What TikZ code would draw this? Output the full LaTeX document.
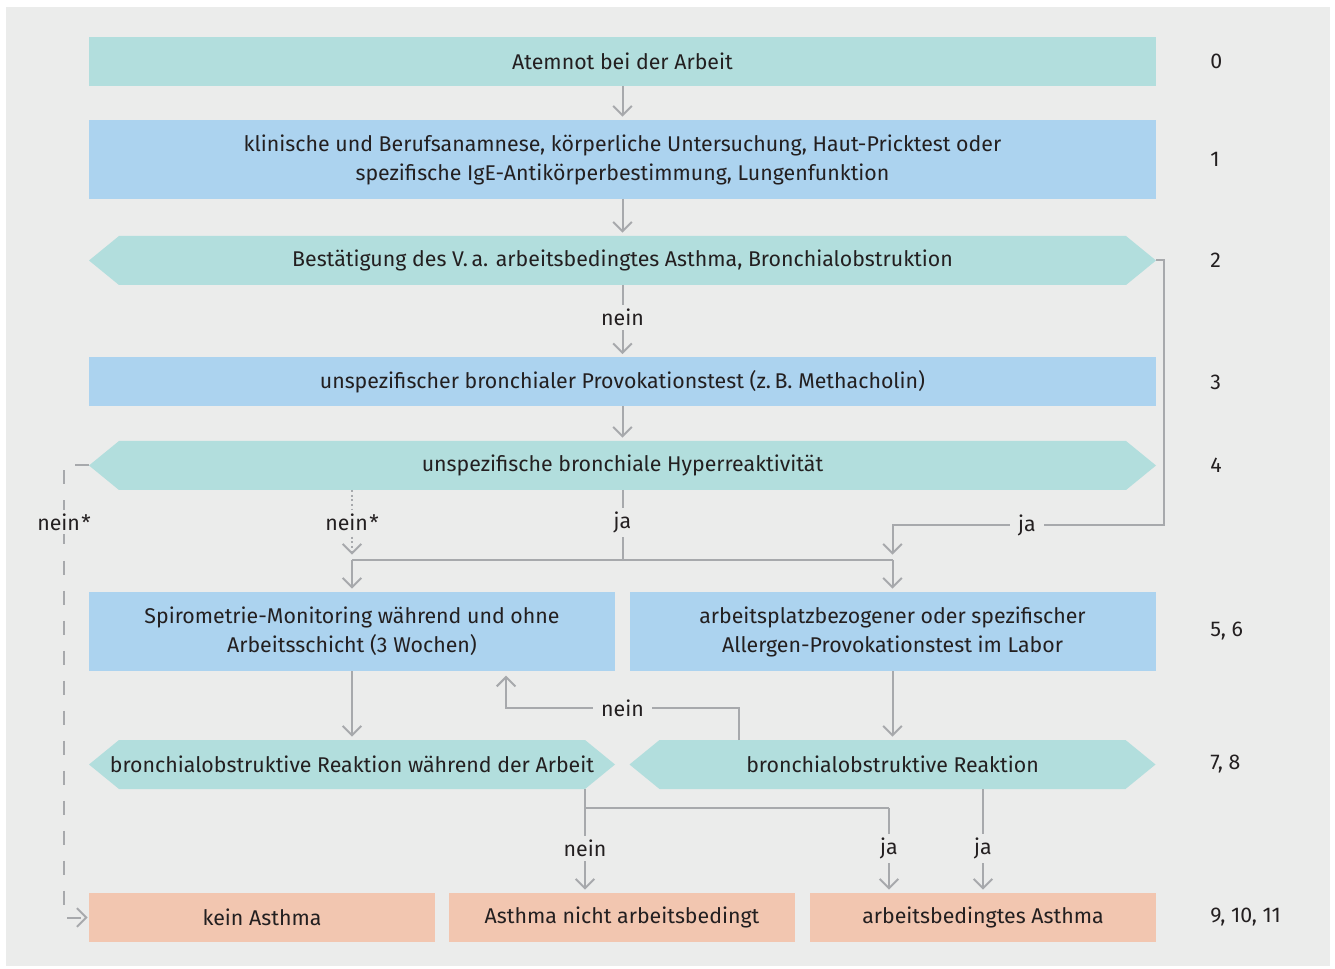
\documentclass[tikz,border=0pt]{standalone}
\usepackage{fontspec}
\setmainfont{Fira Sans}
\usetikzlibrary{arrows.meta,calc}

\definecolor{bgc}{RGB}{235,236,235}
\definecolor{tealc}{RGB}{178,222,221}
\definecolor{bluec}{RGB}{172,211,239}
\definecolor{salmc}{RGB}{242,198,176}
\definecolor{lineg}{RGB}{167,169,172}
\definecolor{txtc}{RGB}{35,31,32}

\newcommand\dfont{\fontsize{16}{21.75}\selectfont}

\tikzset{
  box/.style={rectangle, inner sep=0pt, outer sep=0pt, align=center, text=txtc, font=\dfont},
  fullw/.style={minimum width=800.25pt},
  halfw/.style={minimum width=394.5pt},
  thirdw/.style={minimum width=259.5pt},
  lowh/.style={minimum height=36.75pt},
  highh/.style={minimum height=59.25pt},
  hexbox/.style={box, lowh, path picture={
      \fill[tealc] (path picture bounding box.west)
        -- ([xshift=22.5pt]path picture bounding box.north west)
        -- ([xshift=-22.5pt]path picture bounding box.north east)
        -- (path picture bounding box.east)
        -- ([xshift=-22.5pt]path picture bounding box.south east)
        -- ([xshift=22.5pt]path picture bounding box.south west) -- cycle;}},
  numlbl/.style={anchor=west, inner sep=0pt, text=txtc, font=\dfont},
  lbl/.style={fill=bgc, inner xsep=6pt, inner ysep=3pt, text=txtc, font=\dfont},
  line/.style={draw=lineg, line width=1.5pt},
  arr/.style={line, -{Straight Barb[length=7pt,width=14pt,line width=1.5pt]}, shorten >=2.5pt},
}

\begin{document}
\begin{tikzpicture}[x=0.75pt,y=0.75pt,yscale=-1,xscale=1]
\useasboundingbox (0,0) rectangle (1335,969);
%Shape: Rectangle
\fill[bgc] (6,7) rectangle (1330,966);

% Text Node
\node[box, fullw, lowh, fill=tealc] (n0) at (622.5,61.5) {Atemnot bei der Arbeit};
% Text Node
\node[box, fullw, highh, fill=bluec] (n1) at (622.5,159.5) {klinische und Berufsanamnese, körperliche Untersuchung, Haut-Pricktest oder\\spezifische IgE-Antikörperbestimmung, Lungenfunktion};
% Text Node
\node[hexbox, fullw] (n2) at (622.5,260.5) {Bestätigung des V.\,a. arbeitsbedingtes Asthma, Bronchialobstruktion};
% Text Node
\node[box, fullw, lowh, fill=bluec] (n3) at (622.5,382) {unspezifischer bronchialer Provokationstest (z.\,B. Methacholin)};
% Text Node
\node[hexbox, fullw] (n4) at (622.5,465.5) {unspezifische bronchiale Hyperreaktivität};
% Text Node
\node[box, halfw, highh, fill=bluec] (n5a) at (352,631.5) {Spirometrie-Monitoring während und ohne\\Arbeitsschicht (3 Wochen)};
% Text Node
\node[box, halfw, highh, fill=bluec] (n5b) at (892.5,631.5) {arbeitsplatzbezogener oder spezifischer\\Allergen-Provokationstest im Labor};
% Text Node
\node[hexbox, halfw] (n7a) at (352,764.5) {bronchialobstruktive Reaktion während der Arbeit};
% Text Node
\node[hexbox, halfw] (n7b) at (892.5,764.5) {bronchialobstruktive Reaktion};
% Text Node
\node[box, thirdw, lowh, fill=salmc] (n9a) at (262,917.5) {kein Asthma};
% Text Node
\node[box, thirdw, lowh, fill=salmc] (n9b) at (622,917.5) {Asthma nicht arbeitsbedingt};
% Text Node
\node[box, thirdw, lowh, fill=salmc] (n9c) at (983,917.5) {arbeitsbedingtes Asthma};

% Step numbers
\node[numlbl] (k0) at (1210,61.5) {0};
\node[numlbl] (k1) at (1210,159.5) {1};
\node[numlbl] (k2) at (1210,260.5) {2};
\node[numlbl] (k3) at (1210,382) {3};
\node[numlbl] (k4) at (1210,465.5) {4};
\node[numlbl] (k5) at (1210,631.5) {5, 6};
\node[numlbl] (k7) at (1210,764.5) {7, 8};
\node[numlbl] (k9) at (1210,917.5) {9, 10, 11};

% Junctions
\coordinate (jm) at (622.5,560);
\coordinate (jl) at (352,560);
\coordinate (jr) at (892.5,560);
\coordinate (rr) at (1164,525);
\coordinate (ld) at (64,465.5);
\coordinate (lp) at (739,708);
\coordinate (lq) at (506,708);
\coordinate (bl) at (585,808);
\coordinate (br) at (889,808);

%Straight Lines
\draw[arr] (n0) -- (n1);
\draw[arr] (n1) -- (n2);
\draw[arr] (n2) -- node[lbl, pos=0.45] {nein} (n3);
\draw[arr] (n3) -- (n4);
\draw[line] (n4) -- node[lbl, pos=0.46] {ja} (jm);
\draw[line] (jl) -- (jr);
\draw[arr] (jl) -- (n5a);
\draw[arr] (jr) -- (n5b);
\draw[arr, dotted] (n4.south -| jl) -- node[lbl, pos=0.47] {nein\kern1pt*} ($(jl)+(0,-2)$);
\draw[arr] (n2.east) -| (rr) -| ($(jr)+(0,-2)$);
\node[lbl] at (1027,525) {ja};
\draw[arr, dash pattern=on 10.5pt off 12pt, shorten >=1pt] (n4.west) -- (ld) |- (n9a.west);
\node[lbl] at (64,522) {nein\kern1pt*};
\draw[arr] (n5a) -- (n7a);
\draw[arr] (n5b) -- (n7b);
\draw[arr, shorten >=3.5pt] (n7b.north -| lp) -- (lp) -- node[lbl] {nein} (lq) -- (lq |- n5a.south);
\draw[line] (n7a.south -| bl) -- (bl) -- (br);
\draw[arr] (bl) -- node[lbl, pos=0.48] {nein} (bl |- n9b.north);
\draw[arr] (br) -- node[lbl, pos=0.48] {ja} (br |- n9c.north);
\draw[arr] (n7b.south -| n9c.north) -- node[lbl, pos=0.57] {ja} (n9c.north);

\end{tikzpicture}
\end{document}
